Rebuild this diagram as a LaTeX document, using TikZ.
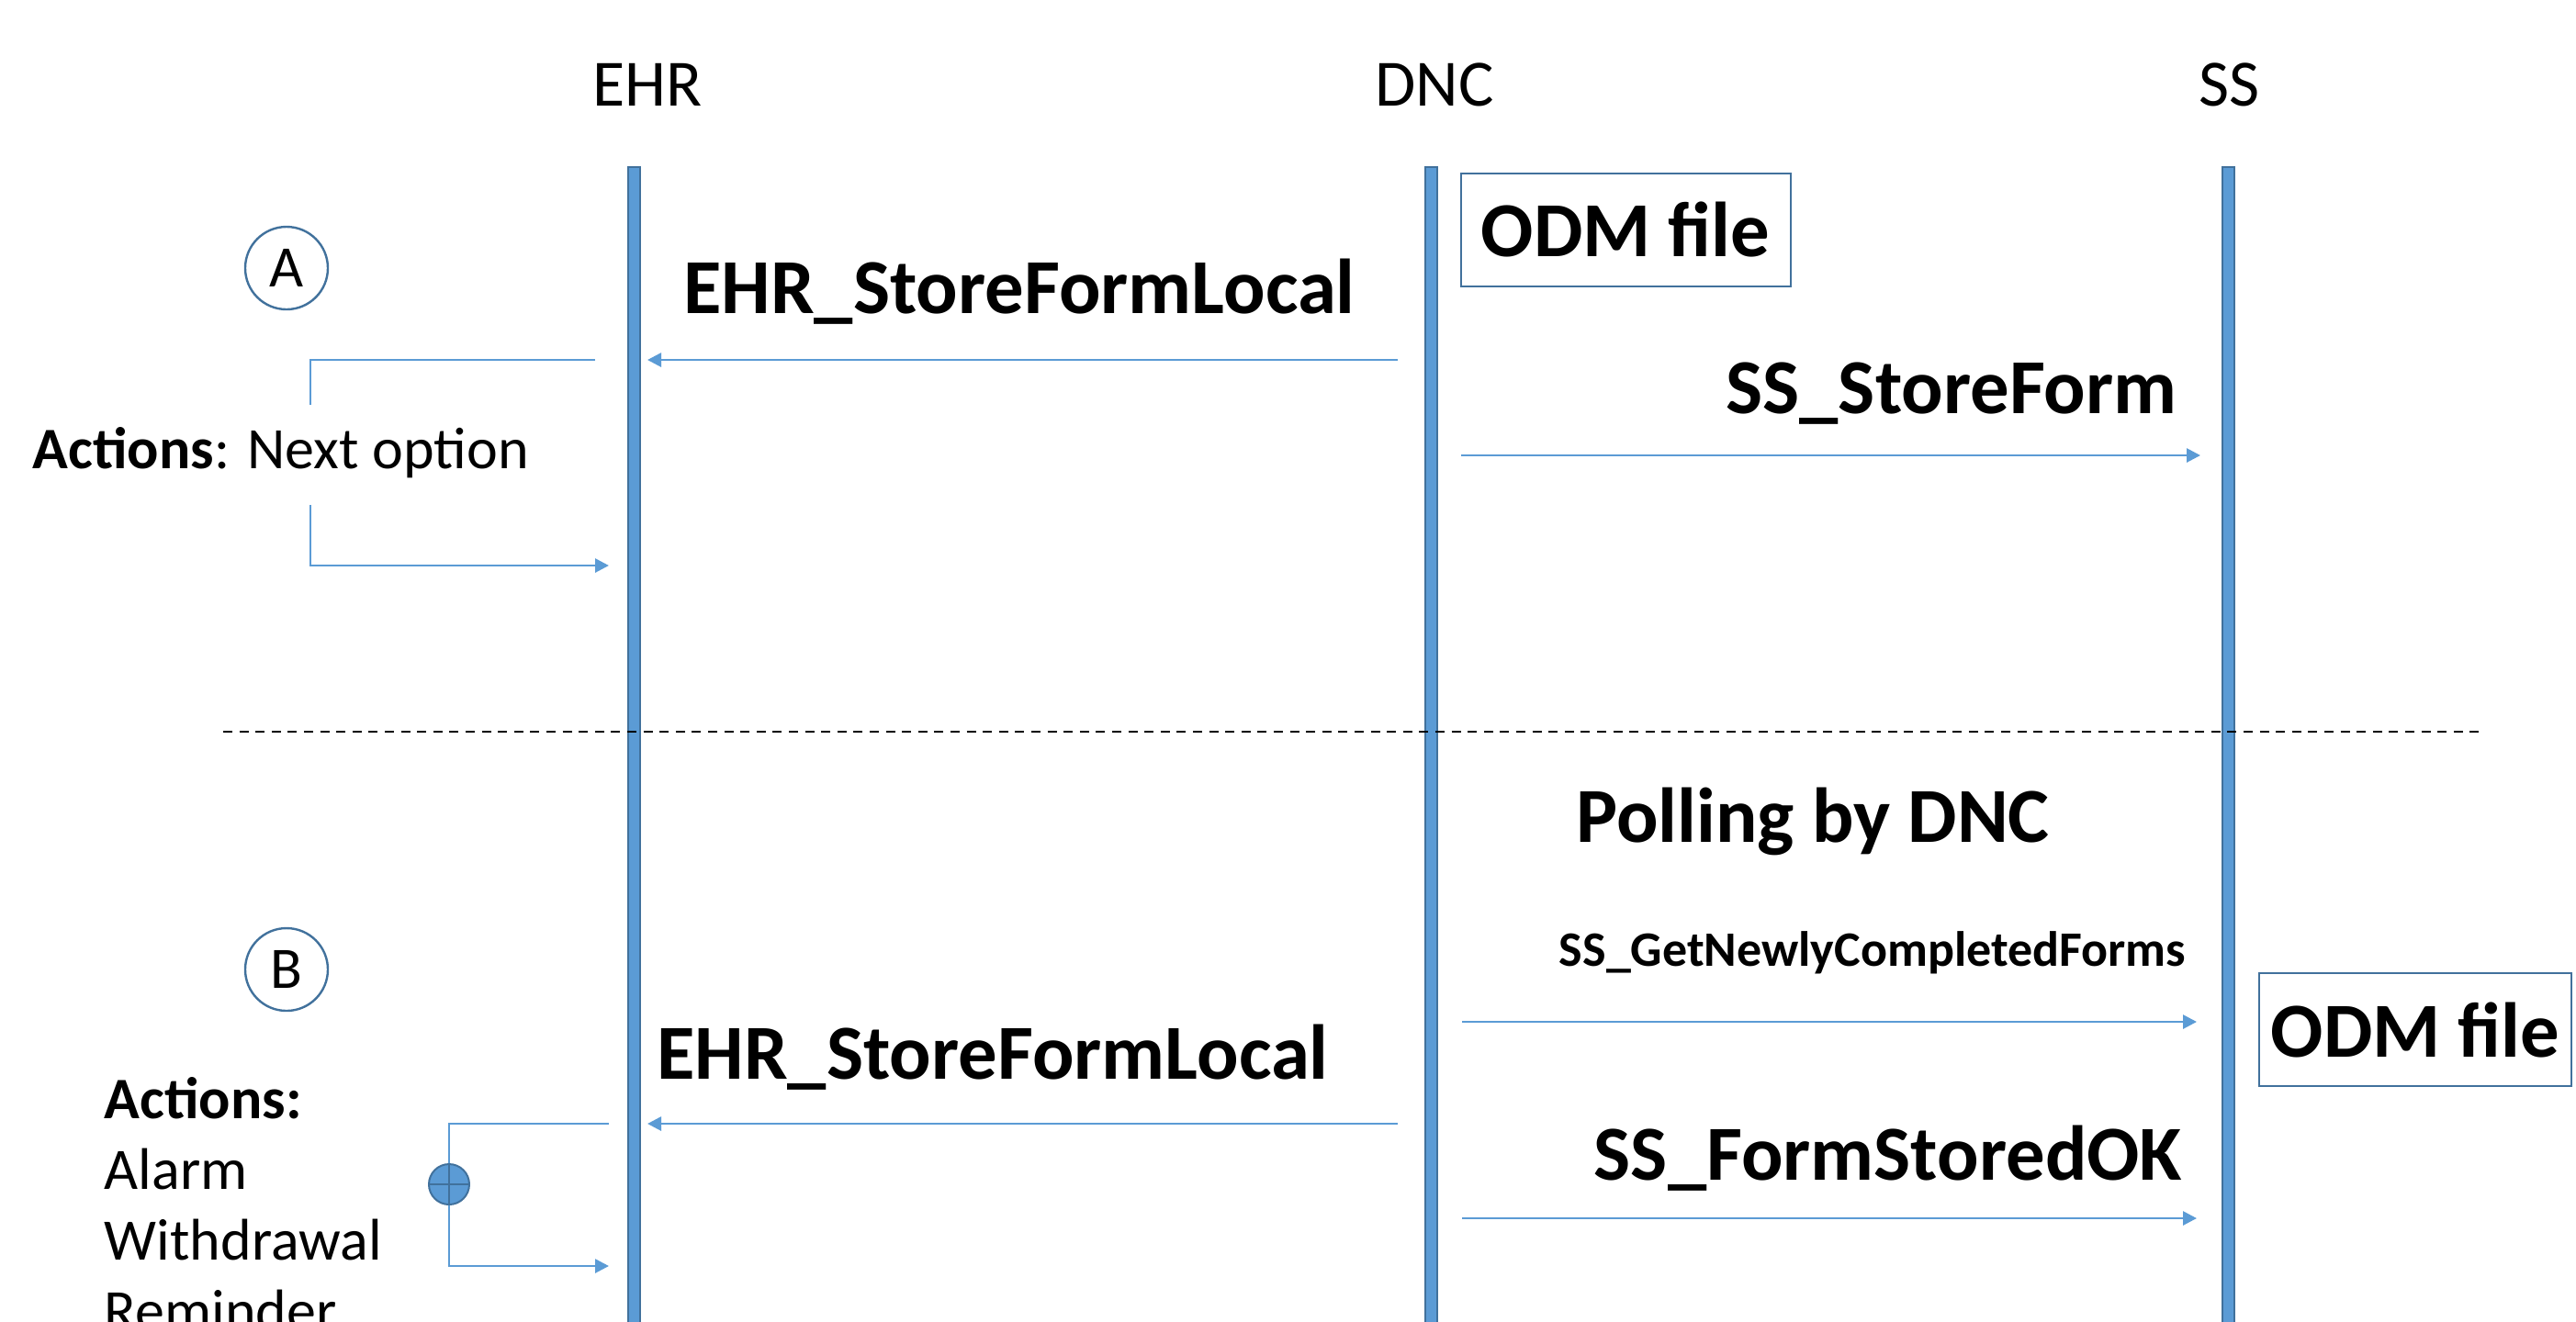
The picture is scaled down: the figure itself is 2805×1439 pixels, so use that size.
\documentclass[tikz,border=0pt]{standalone}
\usepackage{fontspec}
\setmainfont{Carlito}
\usetikzlibrary{arrows.meta}
\definecolor{lblue}{HTML}{5B9BD5}
\definecolor{dblue}{HTML}{41719C}
\begin{document}
\begin{tikzpicture}[x=0.25pt,y=-0.25pt,
  lifeline/.style={rectangle, fill=lblue, draw=dblue, line width=0.5pt, minimum width=3.25pt, minimum height=319.5pt, inner sep=0pt},
  hdr/.style={font=\fontsize{18}{22}\selectfont, inner sep=0pt, anchor=base},
  biglbl/.style={font=\fontsize{21.2}{25}\selectfont\bfseries, inner sep=0pt, anchor=base},
  smalllbl/.style={font=\fontsize{13.5}{16}\selectfont\bfseries, inner sep=0pt, anchor=base},
  acttxt/.style={font=\fontsize{16}{19}\selectfont, inner sep=0pt, anchor=base west},
  odmbox/.style={draw=dblue, line width=0.5pt, fill=white, font=\fontsize{21.2}{25}\selectfont\bfseries, inner sep=0pt, minimum height=30.75pt},
  marker/.style={circle, draw=dblue, line width=0.6pt, minimum size=22.5pt, inner sep=0pt, font=\fontsize{16}{19}\selectfont},
  sumj/.style={circle, fill=lblue, draw=dblue, line width=0.5pt, minimum size=11pt, inner sep=0pt},
  msg/.style={draw=lblue, line width=0.7pt, -{Triangle[length=3.75pt,width=3.75pt]}},
  plainln/.style={draw=lblue, line width=0.7pt},
  sep/.style={draw=black, line width=0.7pt, dash pattern=on 2.5pt off 1.9pt}
]
\useasboundingbox (0,0) rectangle (2805,1439);

% headers
\node[hdr] (ehr) at (705,115) {EHR};
\node[hdr] (dnc) at (1562,115) {DNC};
\node[hdr] (ss)  at (2428,115) {SS};

% lifelines
\node[lifeline] (ehrL) at (690,821) {};
\node[lifeline] (dncL) at (1558,821) {};
\node[lifeline] (ssL)  at (2426,821) {};

% separator
\coordinate (sepL) at (243,797);
\coordinate (sepR) at (2705,797);
\draw[sep] (sepL) -- (sepR);

% ---------- part A ----------
\node[marker] (mA) at (312,292) {A};
\node[odmbox, minimum width=89.75pt] (odmA) at (1770,250) {ODM file};

\node[biglbl] (lblA1) at (1110,341) {EHR\_StoreFormLocal};
\coordinate (a1s) at (1522,392);
\coordinate (a1e) at (705,392);
\draw[msg] (a1s) -- (a1e);

\node[biglbl] (lblA2) at (2125,450) {SS\_StoreForm};
\coordinate (a2s) at (1591,496);
\coordinate (a2e) at (2396,496);
\draw[msg] (a2s) -- (a2e);

\node[acttxt] (actA) at (35,510) {\textbf{Actions}: Next option};
\coordinate (ba1) at (648,392);
\coordinate (ba2) at (338,441);
\coordinate (ba3) at (338,550);
\coordinate (ba4) at (663,616);
\draw[plainln] (ba1) -| (ba2);
\draw[msg] (ba3) |- (ba4);

% ---------- part B ----------
\node[marker] (mB) at (312,1056) {B};
\node[biglbl] (poll) at (1974,917) {Polling by DNC};

\node[smalllbl] (lblB1) at (2039,1052) {SS\_GetNewlyCompletedForms};
\coordinate (b1s) at (1592,1113);
\coordinate (b1e) at (2392,1113);
\draw[msg] (b1s) -- (b1e);

\node[odmbox, minimum width=85pt] (odmB) at (2630,1121.5) {ODM file};

\node[biglbl] (lblB2) at (1081,1175) {EHR\_StoreFormLocal};
\coordinate (b2s) at (1522,1224);
\coordinate (b2e) at (705,1224);
\draw[msg] (b2s) -- (b2e);

\node[biglbl] (lblB3) at (2056,1285) {SS\_FormStoredOK};
\coordinate (b3s) at (1592,1327);
\coordinate (b3e) at (2392,1327);
\draw[msg] (b3s) -- (b3e);

\node[acttxt] (actB1) at (113,1218) {\textbf{Actions:}};
\node[acttxt] (actB2) at (113,1295) {Alarm};
\node[acttxt] (actB3) at (113,1372) {Withdrawal};
\node[acttxt] (actB4) at (113,1449) {Reminder};

\node[sumj] (sj) at (489,1290) {};
\draw[dblue, line width=0.5pt] (sj.north) -- (sj.south) (sj.west) -- (sj.east);
\coordinate (bb1) at (663,1224);
\coordinate (bb4) at (663,1379);
\draw[plainln] (bb1) -| (sj.north);
\draw[msg] (sj.south) |- (bb4);

\end{tikzpicture}
\end{document}
